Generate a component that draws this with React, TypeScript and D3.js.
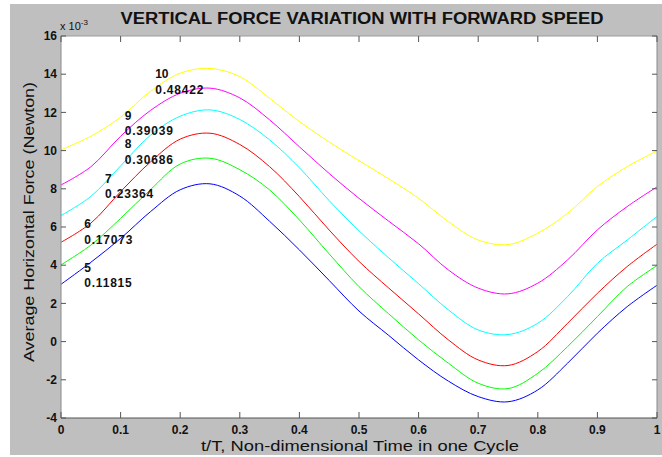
import React from "react";
import * as d3 from "d3";

// t/T sample points and the six force curves (x 10^-3 N)
const tValues = [0, 0.05, 0.1, 0.15, 0.2, 0.25, 0.3, 0.35, 0.4, 0.45, 0.5, 0.55, 0.6, 0.65, 0.7, 0.75, 0.8, 0.85, 0.9, 0.95, 1];
const speed5 = [3.0, 4.15, 5.4, 6.8, 7.95, 8.26, 7.62, 6.3, 4.8, 3.2, 1.6, 0.32, -0.96, -2.07, -2.88, -3.15, -2.53, -1.13, 0.44, 1.83, 2.95];
const speed6 = [4.02, 5.05, 6.45, 7.95, 9.3, 9.6, 9.0, 7.94, 6.37, 4.59, 2.88, 1.45, 0.09, -1.13, -2.18, -2.46, -1.66, -0.26, 1.31, 2.88, 3.98];
const speed7 = [5.2, 6.2, 7.85, 9.4, 10.6, 10.91, 10.32, 9.16, 7.59, 5.84, 4.2, 2.8, 1.45, 0.09, -0.96, -1.25, -0.52, 0.96, 2.53, 3.93, 5.1];
const speed8 = [6.6, 7.6, 9.2, 10.8, 11.8, 12.13, 11.63, 10.56, 9.1, 7.38, 5.8, 4.38, 3.03, 1.66, 0.61, 0.37, 0.96, 2.36, 4.1, 5.32, 6.55];
const speed9 = [8.2, 9.15, 10.75, 12.1, 13.0, 13.27, 12.76, 11.61, 10.2, 8.8, 7.5, 6.3, 5.12, 3.75, 2.8, 2.5, 3.06, 4.28, 5.85, 7.07, 8.1];
const speed10 = [10.04, 10.75, 11.75, 13.1, 14.05, 14.3, 13.87, 12.74, 11.52, 10.45, 9.47, 8.52, 7.5, 6.28, 5.32, 5.08, 5.68, 6.72, 8.12, 9.16, 9.98];

const speedNames = ["5", "6", "7", "8", "9", "10"];
const advanceRatios = ["0.11815", "0.17073", "0.23364", "0.30686", "0.39039", "0.48422"];
// where each text annotation sits, in data units (t/T, force)
const labelT = [0.039, 0.039, 0.074, 0.107, 0.107, 0.158];
const labelV = [3.66, 5.94, 8.32, 10.12, 11.61, 13.79];

const xTicks = [0, 0.1, 0.2, 0.3, 0.4, 0.5, 0.6, 0.7, 0.8, 0.9, 1];
const xTickLabels = ["0", "0.1", "0.2", "0.3", "0.4", "0.5", "0.6", "0.7", "0.8", "0.9", "1"];
const yTicks = [-4, -2, 0, 2, 4, 6, 8, 10, 12, 14, 16];

const allSeries = [speed5, speed6, speed7, speed8, speed9, speed10];
const colors = ["#0000ff", "#00ff00", "#ff0000", "#00ffff", "#ff00ff", "#ffff00"];

const font = "'Liberation Sans', Arial, Helvetica, sans-serif";

export default function App() {
  const width = 662;
  const height = 457;

  const x = d3.scaleLinear().domain([0, 1]).range([61, 657]);
  const y = d3.scaleLinear().domain([-4, 16]).range([418, 36]);

  const line = d3
    .line<number>()
    .x((d, i) => x(tValues[i]))
    .y((d) => y(d))
    .curve(d3.curveCatmullRom.alpha(0.5));

  const [x0, x1] = x.range();
  const [yb, yt] = y.range();

  return (
    <svg
      width={width}
      height={height}
      style={{ position: "absolute", left: 0, top: 0, background: "#fff" }}
      fontFamily={font}
    >
      {/* figure background */}
      <rect x={10} y={4} width={652} height={451} fill="#bfbfbf" />

      {/* title */}
      <text
        x={362}
        y={24}
        textAnchor="middle"
        fontSize={16}
        fontWeight="bold"
        fill="#111"
        textLength={483}
        lengthAdjust="spacingAndGlyphs"
      >
        VERTICAL FORCE VARIATION WITH FORWARD SPEED
      </text>

      {/* axes area */}
      <rect x={x0} y={yt} width={x1 - x0} height={yb - yt} fill="#fff" />

      {allSeries.map((s, i) => (
        <path key={i} d={line(s) || ""} fill="none" stroke={colors[i]} strokeWidth={1} />
      ))}

      {/* box */}
      <line x1={x0} x2={x1} y1={yt} y2={yt} stroke="#9a9a9a" />
      <line x1={x1} x2={x1} y1={yt} y2={yb} stroke="#8a8a8a" />
      <line x1={x0} x2={x0} y1={yt} y2={yb} stroke="#8a8a8a" />
      <line x1={x0} x2={x1} y1={yb} y2={yb} stroke="#555" />

      {/* x ticks */}
      {xTicks.map((t, i) => (
        <g key={"xt" + i}>
          <line x1={x(t)} x2={x(t)} y1={yb} y2={yb - 6} stroke="#555" />
          <line x1={x(t)} x2={x(t)} y1={yt} y2={yt + 6} stroke="#555" />
          <text x={x(t)} y={434} textAnchor="middle" fontSize={12} fontWeight="bold" fill="#111">
            {xTickLabels[i]}
          </text>
        </g>
      ))}

      {/* y ticks */}
      {yTicks.map((v, i) => (
        <g key={"yt" + i}>
          <line x1={x0} x2={x0 + 5} y1={y(v)} y2={y(v)} stroke="#555" />
          <line x1={x1} x2={x1 - 5} y1={y(v)} y2={y(v)} stroke="#555" />
          <text x={57} y={y(v)} dy="0.35em" textAnchor="end" fontSize={12} fontWeight="bold" fill="#111">
            {v}
          </text>
        </g>
      ))}

      {/* exponent */}
      <text x={60} y={30} fontSize={11} fill="#111">
        x 10
        <tspan fontSize={8} dy={-5}>-3</tspan>
      </text>

      {/* curve annotations */}
      {speedNames.map((n, i) => (
        <text key={"lab" + i} x={x(labelT[i])} y={y(labelV[i])} fontSize={12} fontWeight="bold" fill="#111">
          <tspan>{n}</tspan>
          <tspan x={x(labelT[i])} dy={15.5} letterSpacing={0.8}>
            {advanceRatios[i]}
          </tspan>
        </text>
      ))}

      {/* axis titles */}
      <text
        x={360}
        y={451}
        textAnchor="middle"
        fontSize={15}
        fill="#111"
        textLength={318}
        lengthAdjust="spacingAndGlyphs"
      >
        t/T, Non-dimensional Time in one Cycle
      </text>
      <text
        transform="translate(34,222) rotate(-90)"
        textAnchor="middle"
        fontSize={15}
        fill="#111"
        textLength={280}
        lengthAdjust="spacingAndGlyphs"
      >
        Average Horizontal Force (Newton)
      </text>
    </svg>
  );
}
